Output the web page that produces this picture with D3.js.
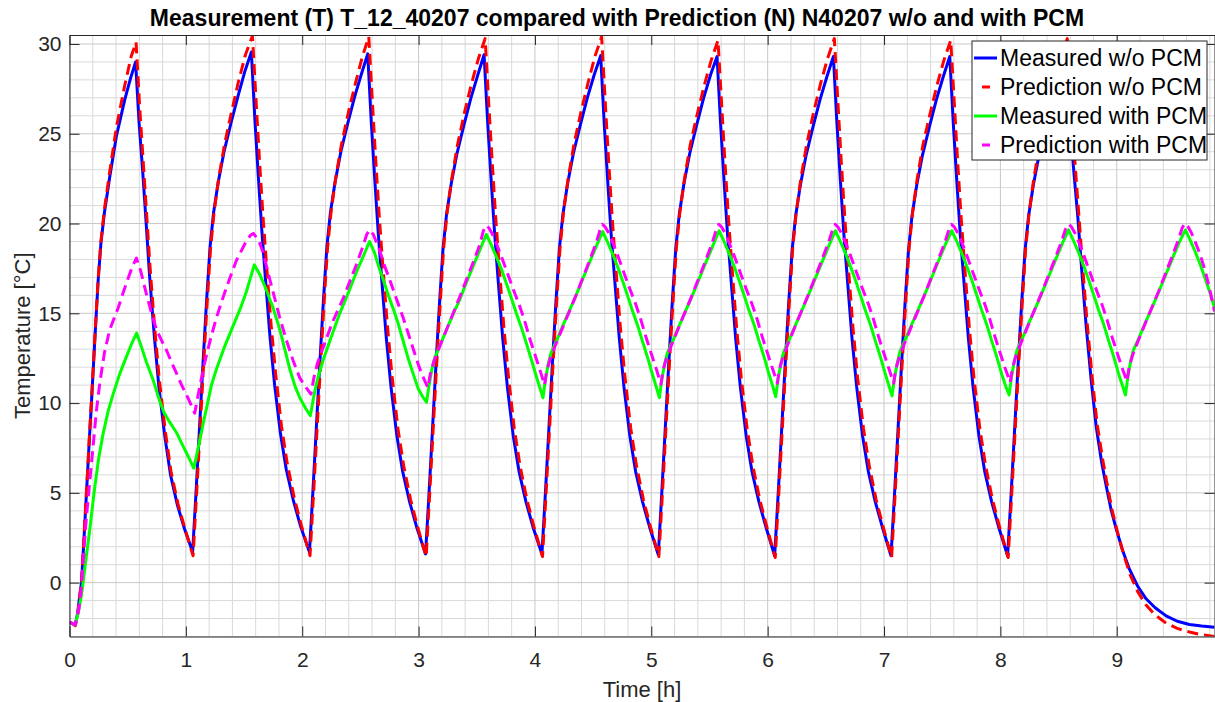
<!DOCTYPE html>
<html>
<head>
<meta charset="utf-8">
<script src="https://cdn.jsdelivr.net/npm/d3@7"></script>
<style>
  html, body { margin: 0; padding: 0; background: #fff; }
  svg { display: block; }
  text { font-family: "Liberation Sans", Arial, Helvetica, sans-serif; fill: #262626; }
</style>
</head>
<body>
<svg id="chart" width="1215" height="702"></svg>
<script>
// Time [h] / temperature [°C] pairs for each series
const measuredNoPcm = [
 [0,-2.2],[0.03,-2.3],[0.05,-2.35],[0.07,-1.7],[0.085,-0.9],[0.103,0],[0.125,2.5],[0.146,5.0],[0.17,7.9],[0.195,10.8],[0.22,13.8],[0.246,16.8],[0.27,18.9],[0.30,20.6],[0.346,22.6],[0.404,24.9],[0.475,26.9],[0.525,28.1],[0.568,29.0],
 [0.598,25.6],[0.628,23.0],[0.658,20.1],[0.688,17.1],[0.728,13.8],[0.768,10.9],[0.818,8.2],[0.868,6.0],[0.928,4.3],[0.988,3.0],[1.058,1.7],
 [1.088,5.1],[1.118,8.7],[1.148,12.3],[1.178,15.7],[1.208,18.7],[1.238,20.6],[1.278,22.3],[1.328,24.0],[1.388,25.6],[1.448,27.1],[1.508,28.5],[1.563,29.55],
 [1.593,25.8],[1.623,22.6],[1.653,19.6],[1.683,17.0],[1.723,13.7],[1.763,11.0],[1.813,8.3],[1.863,6.3],[1.923,4.6],[1.983,3.2],[2.062,1.7],
 [2.092,5.1],[2.122,8.7],[2.152,12.3],[2.182,15.7],[2.212,18.7],[2.242,20.6],[2.282,22.3],[2.332,24.0],[2.392,25.6],[2.452,27.1],[2.512,28.4],[2.563,29.45],
 [2.593,25.7],[2.623,22.5],[2.653,19.5],[2.683,16.9],[2.723,13.6],[2.763,10.9],[2.813,8.2],[2.863,6.2],[2.923,4.5],[2.983,3.1],[3.06,1.6],
 [3.09,5.0],[3.12,8.6],[3.15,12.2],[3.18,15.6],[3.21,18.6],[3.24,20.5],[3.28,22.2],[3.33,23.9],[3.39,25.5],[3.45,27.0],[3.51,28.3],[3.563,29.4],
 [3.593,25.7],[3.623,22.5],[3.653,19.5],[3.683,16.9],[3.723,13.6],[3.763,10.9],[3.813,8.2],[3.863,6.2],[3.923,4.5],[3.983,3.1],[4.06,1.6],
 [4.09,5.0],[4.12,8.6],[4.15,12.2],[4.18,15.6],[4.21,18.6],[4.24,20.5],[4.28,22.2],[4.33,23.9],[4.39,25.5],[4.45,27.0],[4.51,28.3],[4.565,29.35],
 [4.595,25.6],[4.625,22.4],[4.655,19.4],[4.685,16.9],[4.725,13.6],[4.765,10.9],[4.815,8.2],[4.865,6.2],[4.925,4.5],[4.985,3.1],[5.06,1.55],
 [5.09,5.0],[5.12,8.6],[5.15,12.2],[5.18,15.6],[5.21,18.6],[5.24,20.5],[5.28,22.2],[5.33,23.9],[5.39,25.5],[5.45,27.0],[5.51,28.3],[5.565,29.3],
 [5.595,25.6],[5.625,22.4],[5.655,19.4],[5.685,16.9],[5.725,13.6],[5.765,10.9],[5.815,8.2],[5.865,6.2],[5.925,4.5],[5.985,3.1],[6.06,1.5],
 [6.09,4.9],[6.12,8.5],[6.15,12.1],[6.18,15.5],[6.21,18.5],[6.24,20.4],[6.28,22.1],[6.33,23.8],[6.39,25.4],[6.45,26.9],[6.51,28.2],[6.565,29.3],
 [6.595,25.6],[6.625,22.4],[6.655,19.4],[6.685,16.9],[6.725,13.6],[6.765,10.9],[6.815,8.2],[6.865,6.2],[6.925,4.5],[6.985,3.1],[7.06,1.5],
 [7.09,4.9],[7.12,8.5],[7.15,12.1],[7.18,15.5],[7.21,18.5],[7.24,20.4],[7.28,22.1],[7.33,23.8],[7.39,25.4],[7.45,26.9],[7.51,28.2],[7.565,29.3],
 [7.595,25.6],[7.625,22.4],[7.655,19.4],[7.685,16.9],[7.725,13.6],[7.765,10.9],[7.815,8.2],[7.865,6.2],[7.925,4.5],[7.985,3.1],[8.062,1.5],
 [8.092,4.9],[8.122,8.5],[8.152,12.1],[8.182,15.5],[8.212,18.5],[8.242,20.4],[8.282,22.1],[8.332,23.8],[8.392,25.4],[8.452,26.9],[8.512,28.2],[8.567,29.3],
 [8.597,26.0],[8.627,23.2],[8.665,20.4],[8.70,17.3],[8.737,14.3],[8.78,11.3],[8.823,8.7],[8.87,6.7],[8.909,5.4],[8.95,4.1],[8.995,3.0],[9.05,1.8],[9.109,0.75],[9.18,-0.2],[9.252,-0.9],[9.33,-1.4],[9.424,-1.85],[9.52,-2.15],[9.625,-2.33],[9.73,-2.42],[9.84,-2.48]
];

const predictionNoPcm = [
 [0,-2.2],[0.03,-2.3],[0.05,-2.4],[0.07,-1.8],[0.085,-0.9],[0.103,0],[0.125,2.6],[0.146,5.1],[0.17,8.0],[0.195,10.9],[0.22,13.9],[0.246,16.9],[0.27,19.0],[0.30,20.8],[0.346,22.9],[0.404,25.4],[0.475,27.7],[0.53,29.3],[0.572,30.1],
 [0.602,26.6],[0.632,23.6],[0.662,20.6],[0.692,17.6],[0.732,14.2],[0.772,11.3],[0.822,8.5],[0.872,6.2],[0.932,4.4],[0.992,3.0],[1.062,1.5],
 [1.092,4.9],[1.122,8.5],[1.152,12.1],[1.182,15.5],[1.212,18.6],[1.242,20.6],[1.282,22.5],[1.332,24.4],[1.392,26.2],[1.452,27.9],[1.512,29.4],[1.572,30.45],
 [1.602,27.0],[1.632,23.6],[1.662,20.5],[1.692,17.8],[1.732,14.4],[1.772,11.6],[1.822,8.7],[1.872,6.6],[1.932,4.7],[1.992,3.2],[2.067,1.5],
 [2.097,4.9],[2.127,8.5],[2.157,12.1],[2.187,15.5],[2.217,18.6],[2.247,20.6],[2.287,22.5],[2.337,24.4],[2.397,26.2],[2.457,27.8],[2.517,29.3],[2.572,30.4],
 [2.602,26.9],[2.632,23.5],[2.662,20.4],[2.692,17.7],[2.732,14.3],[2.772,11.5],[2.822,8.6],[2.872,6.5],[2.932,4.6],[2.992,3.1],[3.065,1.45],
 [3.095,4.9],[3.125,8.5],[3.155,12.1],[3.185,15.5],[3.215,18.6],[3.245,20.6],[3.285,22.5],[3.335,24.4],[3.395,26.2],[3.455,27.8],[3.515,29.2],[3.572,30.3],
 [3.602,26.8],[3.632,23.5],[3.662,20.4],[3.692,17.7],[3.732,14.3],[3.772,11.5],[3.822,8.6],[3.872,6.5],[3.932,4.6],[3.992,3.1],[4.065,1.45],
 [4.095,4.9],[4.125,8.5],[4.155,12.1],[4.185,15.5],[4.215,18.6],[4.245,20.6],[4.285,22.5],[4.335,24.4],[4.395,26.2],[4.455,27.8],[4.515,29.3],[4.573,30.4],
 [4.603,26.9],[4.633,23.5],[4.663,20.4],[4.693,17.7],[4.733,14.3],[4.773,11.5],[4.823,8.6],[4.873,6.5],[4.933,4.6],[4.993,3.1],[5.065,1.45],
 [5.095,4.9],[5.125,8.5],[5.155,12.1],[5.185,15.5],[5.215,18.6],[5.245,20.6],[5.285,22.5],[5.335,24.4],[5.395,26.1],[5.455,27.7],[5.515,29.1],[5.573,30.2],
 [5.603,26.8],[5.633,23.4],[5.663,20.3],[5.693,17.6],[5.733,14.2],[5.773,11.4],[5.823,8.6],[5.873,6.5],[5.933,4.6],[5.993,3.1],[6.065,1.4],
 [6.095,4.9],[6.125,8.5],[6.155,12.1],[6.185,15.5],[6.215,18.6],[6.245,20.6],[6.285,22.5],[6.335,24.4],[6.395,26.2],[6.455,27.8],[6.515,29.2],[6.573,30.3],
 [6.603,26.8],[6.633,23.4],[6.663,20.3],[6.693,17.6],[6.733,14.2],[6.773,11.4],[6.823,8.6],[6.873,6.5],[6.933,4.6],[6.993,3.1],[7.065,1.4],
 [7.095,4.9],[7.125,8.5],[7.155,12.1],[7.185,15.5],[7.215,18.6],[7.245,20.6],[7.285,22.5],[7.335,24.4],[7.395,26.1],[7.455,27.7],[7.515,29.1],[7.573,30.2],
 [7.603,26.8],[7.633,23.4],[7.663,20.3],[7.693,17.6],[7.733,14.2],[7.773,11.4],[7.823,8.6],[7.873,6.5],[7.933,4.6],[7.993,3.1],[8.067,1.4],
 [8.097,4.9],[8.127,8.5],[8.157,12.1],[8.187,15.5],[8.217,18.6],[8.247,20.6],[8.287,22.5],[8.337,24.4],[8.397,26.2],[8.457,27.8],[8.517,29.2],[8.575,30.3],
 [8.605,27.2],[8.635,23.9],[8.673,20.6],[8.708,17.5],[8.745,14.5],[8.788,11.5],[8.83,8.9],[8.878,6.9],[8.917,5.5],[8.958,4.1],[9.003,2.9],[9.058,1.6],[9.117,0.4],[9.18,-0.5],[9.252,-1.25],[9.33,-1.8],[9.424,-2.26],[9.52,-2.55],[9.625,-2.75],[9.73,-2.9],[9.84,-3.0]
];

const measuredPcm = [
 [0,-2.2],[0.03,-2.3],[0.05,-2.35],[0.08,-1.5],[0.1,-0.8],[0.117,0],[0.145,1.5],[0.174,2.94],[0.2,4.4],[0.217,5.3],[0.25,6.9],[0.289,8.3],[0.33,9.5],[0.375,10.5],[0.43,11.6],[0.49,12.6],[0.54,13.4],[0.577,13.9],
 [0.62,13.1],[0.66,12.3],[0.718,11.3],[0.776,10.1],[0.81,9.5],[0.86,8.95],[0.92,8.35],[0.976,7.6],[1.03,6.9],[1.068,6.37],
 [1.09,7.0],[1.119,7.9],[1.15,8.9],[1.177,9.7],[1.22,11.0],[1.263,11.9],[1.33,13.1],[1.406,14.3],[1.47,15.3],[1.52,16.2],[1.588,17.7],
 [1.64,17.1],[1.692,16.3],[1.75,15.3],[1.807,14.1],[1.85,13.0],[1.893,11.9],[1.94,10.9],[1.979,10.3],[2.03,9.7],[2.07,9.3],
 [2.1,10.4],[2.13,11.3],[2.18,12.4],[2.25,13.7],[2.323,15.0],[2.4,16.2],[2.466,17.3],[2.52,18.1],[2.578,19.0],
 [2.62,18.4],[2.657,17.6],[2.7,16.8],[2.74,16.0],[2.785,15.2],[2.826,14.4],[2.87,13.4],[2.91,12.5],[2.955,11.6],[2.997,10.8],[3.04,10.3],[3.068,10.05],
 [3.09,11.0],[3.115,11.9],[3.138,12.5],[3.19,13.3],[3.239,14.08],[3.3,15.0],[3.353,15.75],[3.41,16.7],[3.467,17.6],[3.525,18.5],[3.582,19.4],
 [3.625,18.8],[3.668,18.16],[3.71,17.5],[3.754,16.68],[3.8,15.8],[3.84,15.0],[3.884,14.2],[3.926,13.34],[3.97,12.4],[4.012,11.48],[4.045,10.8],[4.069,10.3],
 [4.09,11.3],[4.115,12.2],[4.138,12.8],[4.19,13.55],[4.239,14.3],[4.3,15.2],[4.353,16.0],[4.41,16.9],[4.467,17.8],[4.525,18.7],[4.582,19.55],
 [4.625,18.95],[4.668,18.3],[4.71,17.6],[4.754,16.8],[4.8,15.9],[4.84,15.1],[4.884,14.3],[4.926,13.4],[4.97,12.5],[5.012,11.55],[5.045,10.85],[5.069,10.3],
 [5.09,11.3],[5.115,12.2],[5.138,12.8],[5.19,13.55],[5.239,14.3],[5.3,15.2],[5.353,16.0],[5.41,16.9],[5.467,17.8],[5.525,18.7],[5.582,19.6],
 [5.625,19.0],[5.668,18.35],[5.71,17.65],[5.754,16.85],[5.8,15.95],[5.84,15.15],[5.884,14.35],[5.926,13.45],[5.97,12.55],[6.012,11.6],[6.045,10.9],[6.069,10.35],
 [6.09,11.35],[6.115,12.25],[6.138,12.85],[6.19,13.6],[6.239,14.35],[6.3,15.25],[6.353,16.05],[6.41,16.95],[6.467,17.85],[6.525,18.75],[6.582,19.6],
 [6.625,19.0],[6.668,18.35],[6.71,17.65],[6.754,16.85],[6.8,15.95],[6.84,15.15],[6.884,14.35],[6.926,13.45],[6.97,12.55],[7.012,11.6],[7.045,10.9],[7.069,10.4],
 [7.09,11.4],[7.115,12.3],[7.138,12.9],[7.19,13.65],[7.239,14.4],[7.3,15.3],[7.353,16.1],[7.41,17.0],[7.467,17.9],[7.525,18.8],[7.582,19.6],
 [7.625,19.0],[7.668,18.35],[7.71,17.65],[7.754,16.85],[7.8,15.95],[7.84,15.15],[7.884,14.35],[7.926,13.45],[7.97,12.55],[8.012,11.6],[8.048,10.9],[8.075,10.45],
 [8.095,11.45],[8.12,12.35],[8.143,12.95],[8.195,13.7],[8.244,14.45],[8.305,15.35],[8.358,16.15],[8.415,17.05],[8.472,17.95],[8.53,18.85],[8.585,19.65],
 [8.628,19.05],[8.671,18.4],[8.713,17.7],[8.757,16.9],[8.803,16.0],[8.843,15.2],[8.887,14.4],[8.929,13.5],[8.973,12.6],[9.015,11.65],[9.05,10.95],[9.075,10.45],
 [9.095,11.45],[9.12,12.35],[9.143,12.95],[9.195,13.7],[9.244,14.45],[9.305,15.35],[9.358,16.15],[9.415,17.05],[9.472,17.95],[9.53,18.85],[9.59,19.65],
 [9.633,19.05],[9.676,18.4],[9.718,17.7],[9.762,16.9],[9.808,16.0],[9.84,15.3]
];

const predictionPcm = [
 [0,-2.2],[0.03,-2.3],[0.05,-2.35],[0.08,-1.5],[0.1,-0.4],[0.12,1.4],[0.146,3.7],[0.175,5.7],[0.203,7.6],[0.23,9.5],[0.26,11.1],[0.3,12.8],[0.346,14.1],[0.418,15.3],[0.49,16.7],[0.54,17.6],[0.575,18.07],
 [0.61,17.4],[0.66,16.1],[0.705,15.0],[0.747,14.1],[0.79,13.5],[0.833,12.95],[0.875,12.3],[0.919,11.67],[0.96,11.05],[1.005,10.46],[1.045,9.9],[1.076,9.44],
 [1.095,10.1],[1.119,10.9],[1.16,12.2],[1.205,13.4],[1.26,14.7],[1.32,15.9],[1.38,17.0],[1.435,17.95],[1.51,18.9],[1.555,19.35],[1.58,19.45],
 [1.61,19.2],[1.635,18.9],[1.663,18.4],[1.705,17.3],[1.749,16.2],[1.805,14.8],[1.864,13.5],[1.92,12.4],[1.979,11.4],[2.03,10.9],[2.075,10.5],
 [2.1,11.4],[2.13,12.2],[2.18,13.1],[2.26,14.5],[2.35,15.8],[2.41,16.8],[2.465,17.7],[2.52,18.7],[2.555,19.4],[2.58,19.65],
 [2.61,19.4],[2.635,19.0],[2.665,18.5],[2.71,17.6],[2.75,16.9],[2.81,15.8],[2.865,14.8],[2.91,13.9],[2.95,13.1],[3.0,12.1],[3.035,11.5],[3.08,10.85],
 [3.1,11.6],[3.13,12.3],[3.181,13.15],[3.26,14.4],[3.353,15.9],[3.41,16.85],[3.467,17.8],[3.525,18.8],[3.557,19.6],[3.58,19.9],
 [3.605,19.75],[3.635,19.4],[3.668,18.9],[3.71,18.2],[3.754,17.4],[3.81,16.4],[3.869,15.4],[3.91,14.6],[3.955,13.6],[4.0,12.7],[4.04,11.9],[4.083,11.0],
 [4.1,11.75],[4.13,12.45],[4.181,13.3],[4.26,14.55],[4.353,16.0],[4.41,16.95],[4.467,17.9],[4.525,18.9],[4.557,19.6],[4.58,19.95],
 [4.605,19.8],[4.635,19.45],[4.668,18.95],[4.71,18.25],[4.754,17.45],[4.81,16.45],[4.869,15.45],[4.91,14.65],[4.955,13.65],[5.0,12.75],[5.04,11.95],[5.083,11.05],
 [5.1,11.8],[5.13,12.5],[5.181,13.35],[5.26,14.6],[5.353,16.05],[5.41,17.0],[5.467,17.95],[5.525,18.95],[5.557,19.65],[5.58,19.95],
 [5.605,19.8],[5.635,19.45],[5.668,18.95],[5.71,18.25],[5.754,17.45],[5.81,16.45],[5.869,15.45],[5.91,14.65],[5.955,13.65],[6.0,12.75],[6.04,11.95],[6.083,11.1],
 [6.1,11.85],[6.13,12.55],[6.181,13.4],[6.26,14.65],[6.353,16.1],[6.41,17.05],[6.467,18.0],[6.525,19.0],[6.557,19.65],[6.58,19.95],
 [6.605,19.8],[6.635,19.45],[6.668,18.95],[6.71,18.25],[6.754,17.45],[6.81,16.45],[6.869,15.45],[6.91,14.65],[6.955,13.65],[7.0,12.75],[7.04,11.95],[7.083,11.1],
 [7.1,11.85],[7.13,12.55],[7.181,13.4],[7.26,14.65],[7.353,16.1],[7.41,17.05],[7.467,18.0],[7.525,19.0],[7.557,19.65],[7.58,19.95],
 [7.605,19.8],[7.635,19.45],[7.668,18.95],[7.71,18.25],[7.754,17.45],[7.81,16.45],[7.869,15.45],[7.91,14.65],[7.955,13.65],[8.0,12.75],[8.04,11.95],[8.085,11.15],
 [8.102,11.9],[8.132,12.6],[8.183,13.45],[8.262,14.7],[8.355,16.15],[8.412,17.1],[8.47,18.05],[8.528,19.05],[8.56,19.7],[8.585,19.97],
 [8.61,19.82],[8.64,19.47],[8.673,18.97],[8.715,18.27],[8.759,17.47],[8.815,16.47],[8.874,15.47],[8.915,14.67],[8.96,13.67],[9.005,12.77],[9.045,11.97],[9.088,11.2],
 [9.105,11.95],[9.135,12.65],[9.186,13.5],[9.265,14.75],[9.358,16.2],[9.415,17.15],[9.472,18.1],[9.53,19.1],[9.562,19.75],[9.585,20.0],
 [9.61,19.85],[9.64,19.5],[9.673,19.0],[9.715,18.3],[9.759,17.4],[9.8,16.3],[9.84,15.1]
];

const xTickValues = [0, 1, 2, 3, 4, 5, 6, 7, 8, 9];
const yTickValues = [0, 5, 10, 15, 20, 25, 30];
const seriesNames = ["Measured w/o PCM", "Prediction w/o PCM", "Measured with PCM", "Prediction with PCM"];
const seriesColors = ["#0000ff", "#ff0000", "#00ff00", "#ff00ff"];
const seriesDashed = [false, true, false, true];
const titleText = "Measurement (T) T_12_40207 compared with Prediction (N) N40207 w/o and with PCM";

const plot = { left: 69.5, right: 1214.5, top: 35, bottom: 636.5 };
const x = d3.scaleLinear().domain([0, 9.84]).range([plot.left, plot.right]);
const y = d3.scaleLinear().domain([-3, 30.5]).range([plot.bottom, plot.top]);

const svg = d3.select("#chart");

svg.append("defs").append("clipPath").attr("id", "plotClip")
  .append("rect")
  .attr("x", plot.left).attr("y", plot.top)
  .attr("width", plot.right - plot.left).attr("height", plot.bottom - plot.top);

// minor and major grid
const grid = svg.append("g");
const minorX = d3.range(0, 9.84, 0.2).filter(v => Math.abs(v - Math.round(v)) > 1e-6);
const minorY = d3.range(-3, 30.6, 1).filter(v => v % 5 !== 0);
grid.selectAll(".mx").data(minorX).join("line")
  .attr("x1", d => x(d)).attr("x2", d => x(d))
  .attr("y1", plot.top).attr("y2", plot.bottom)
  .attr("stroke", "#d9d9d9").attr("stroke-width", 1);
grid.selectAll(".my").data(minorY).join("line")
  .attr("y1", d => y(d)).attr("y2", d => y(d))
  .attr("x1", plot.left).attr("x2", plot.right)
  .attr("stroke", "#d9d9d9").attr("stroke-width", 1);
grid.selectAll(".Mx").data(xTickValues).join("line")
  .attr("x1", d => x(d)).attr("x2", d => x(d))
  .attr("y1", plot.top).attr("y2", plot.bottom)
  .attr("stroke", "#c8c8c8").attr("stroke-width", 1);
grid.selectAll(".My").data(yTickValues).join("line")
  .attr("y1", d => y(d)).attr("y2", d => y(d))
  .attr("x1", plot.left).attr("x2", plot.right)
  .attr("stroke", "#c8c8c8").attr("stroke-width", 1);

// series lines
const line = d3.line()
  .x(d => x(d[0])).y(d => y(d[1]))
  .curve(d3.curveLinear);

const allSeries = [measuredNoPcm, predictionNoPcm, measuredPcm, predictionPcm];
const lines = svg.append("g").attr("clip-path", "url(#plotClip)");
allSeries.forEach((data, i) => {
  lines.append("path")
    .datum(data)
    .attr("d", line)
    .attr("fill", "none")
    .attr("stroke", seriesColors[i])
    .attr("stroke-width", 3)
    .attr("stroke-linejoin", "round")
    .attr("stroke-dasharray", seriesDashed[i] ? "11,6" : null);
});

// axes (box with inward ticks on all sides)
const tickLen = 10;
const axisColor = "#262626";
const fmt = d3.format("d");

const bottomAxis = d3.axisBottom(x).tickValues(xTickValues).tickFormat(fmt).tickSizeInner(-tickLen).tickSizeOuter(0).tickPadding(16);
const topAxis = d3.axisTop(x).tickValues(xTickValues).tickFormat("").tickSizeInner(-tickLen).tickSizeOuter(0);
const leftAxis = d3.axisLeft(y).tickValues(yTickValues).tickFormat(fmt).tickSizeInner(-tickLen).tickSizeOuter(0).tickPadding(8);
const rightAxis = d3.axisRight(y).tickValues(yTickValues).tickFormat("").tickSizeInner(-tickLen).tickSizeOuter(0);

function styleAxis(g) {
  g.select(".domain").attr("stroke", axisColor).attr("stroke-width", 1);
  g.selectAll(".tick line").attr("stroke", axisColor).attr("stroke-width", 1);
  g.selectAll(".tick text")
    .attr("fill", axisColor)
    .style("font-family", '"Liberation Sans", Arial, Helvetica, sans-serif')
    .style("font-size", "21px");
}

svg.append("g").attr("transform", `translate(0,${plot.bottom})`).call(bottomAxis).call(styleAxis);
svg.append("g").attr("transform", `translate(0,${plot.top})`).call(topAxis).call(styleAxis);
svg.append("g").attr("transform", `translate(${plot.left},0)`).call(leftAxis).call(styleAxis);
svg.append("g").attr("transform", `translate(${plot.right},0)`).call(rightAxis).call(styleAxis);

// title and axis labels
svg.append("text")
  .attr("x", 617).attr("y", 26)
  .attr("text-anchor", "middle")
  .style("font-size", "23px").style("font-weight", "bold")
  .style("fill", "#000")
  .text(titleText);

svg.append("text")
  .attr("x", (plot.left + plot.right) / 2).attr("y", 697)
  .attr("text-anchor", "middle")
  .style("font-size", "22px")
  .text("Time [h]");

svg.append("text")
  .attr("transform", `translate(30,${(plot.top + plot.bottom) / 2}) rotate(-90)`)
  .attr("text-anchor", "middle")
  .style("font-size", "22px")
  .text("Temperature [°C]");

// legend
const legend = svg.append("g").attr("transform", "translate(972,41)");
legend.append("rect")
  .attr("width", 235).attr("height", 119)
  .attr("fill", "#fff").attr("stroke", "#262626").attr("stroke-width", 1);
seriesNames.forEach((name, i) => {
  const cy = 17 + i * 29;
  legend.append("line")
    .attr("x1", 2).attr("x2", 25).attr("y1", cy).attr("y2", cy)
    .attr("stroke", seriesColors[i]).attr("stroke-width", 3)
    .attr("stroke-dasharray", seriesDashed[i] ? "0,8,8,8" : null);
  legend.append("text")
    .attr("x", 28).attr("y", cy + 8)
    .style("font-size", "23px")
    .style("fill", "#000")
    .text(name);
});
</script>
</body>
</html>
